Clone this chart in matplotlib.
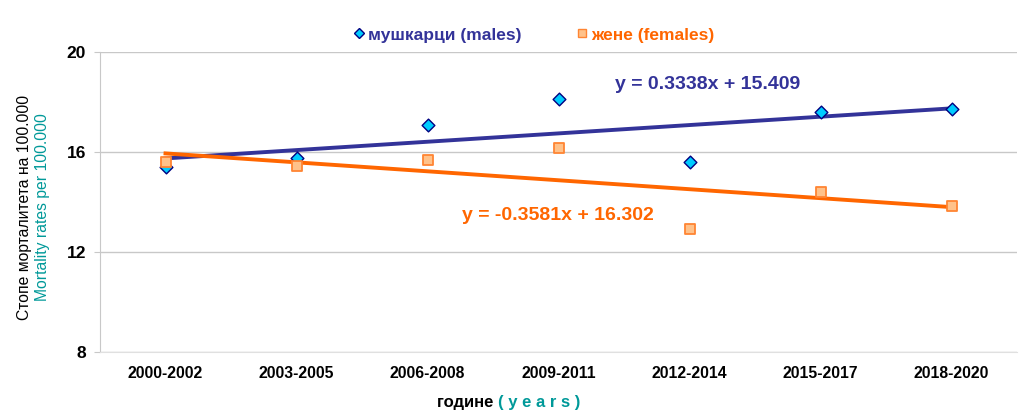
import numpy as np
import matplotlib.pyplot as plt
from matplotlib.lines import Line2D

# ------------------------------------------ DATA ------------------------------------------------#
periods = ['2000-2002', '2003-2005', '2006-2008', '2009-2011', '2012-2014', '2015-2017', '2018-2020']
males = [15.4, 15.76, 17.08, 18.12, 15.6, 17.6, 17.72]
females = [15.6, 15.44, 15.68, 16.16, 12.92, 14.4, 13.84]
males_fit = (0.3338, 15.409)
females_fit = (-0.3581, 16.302)

# ------------------------------------------ PLOT ------------------------------------------------#
plt.rcParams['font.family'] = ['Liberation Sans', 'DejaVu Sans']
blue = '#333399'
orange = '#FF6600'
teal = '#009999'

fig = plt.figure(figsize=(10.24, 4.18), dpi=100)
ax = fig.add_axes([100/1024, 1 - 352/418, 917/1024, 300/418])

x = np.arange(1, len(periods) + 1)
ax.plot(x, np.array(x) * males_fit[0] + males_fit[1], color=blue, lw=2.8, zorder=2)
ax.plot(x, np.array(x) * females_fit[0] + females_fit[1], color=orange, lw=2.8, zorder=2)
ax.scatter(x, males, marker='D', s=42, color='#00CCFF', edgecolors='#000080', linewidths=1.0, zorder=3)
ax.scatter(x, females, marker='s', s=52, color='#FFC28A', edgecolors='#FF8533', linewidths=1.3, zorder=3)

ax.set_xlim(0.5, len(periods) + 0.5)
ax.set_ylim(8, 20)
ax.set_yticks([8, 12, 16, 20])
ax.set_xticks(x)
ax.set_xticklabels(periods, fontsize=11.3, fontweight='bold')
ax.set_yticklabels(['8', '12', '16', '20'], fontsize=12.5, fontweight='bold')
ax.tick_params(axis='x', length=0, pad=10)
ax.tick_params(axis='y', length=4, color='#C8C8C8', pad=6)
ax.grid(axis='y', color='#C8C8C8', lw=1)
ax.set_axisbelow(True)
for s in ['top', 'right']:
    ax.spines[s].set_visible(False)
ax.spines['left'].set_color('#C8C8C8')
ax.spines['bottom'].set_color('#E0E0E0')

## trend equations
ax.text(4.43, 18.7, 'y = 0.3338x + 15.409', color=blue, fontsize=14, fontweight='bold', va='center')
ax.text(3.26, 13.44, 'y = -0.3581x + 16.302', color=orange, fontsize=14, fontweight='bold', va='center')

## legend on top
handles = [Line2D([], [], marker='D', ls='none', markersize=5, markerfacecolor='#00CCFF',
                  markeredgecolor='#000080', label='мушкарци (males)'),
           Line2D([], [], marker='s', ls='none', markersize=6, markerfacecolor='#FFC28A',
                  markeredgecolor='#FF8533', label='жене (females)')]
leg = fig.legend(handles=handles, loc='center', bbox_to_anchor=(532/1024, 1 - 35/418), ncol=2,
                 frameon=False, handletextpad=0.0, columnspacing=2.9, handlelength=1.1,
                 prop={'size': 12.5, 'weight': 'bold'})
for t, c in zip(leg.get_texts(), [blue, orange]):
    t.set_color(c)

## axis labels
fig.text(25/1024, 1 - 207/418, 'Стопе морталитета на 100.000', rotation=90, ha='center', va='center',
         fontsize=11.3, color='black')
fig.text(43/1024, 1 - 207/418, 'Mortality rates per 100.000', rotation=90, ha='center', va='center',
         fontsize=11.3, color=teal)
fig.text(498/1024, 1 - 403/418, 'године ', ha='right', va='center', fontsize=12,
         fontweight='bold', color='black')
fig.text(498/1024, 1 - 403/418, '( y e a r s )', ha='left', va='center', fontsize=12,
         fontweight='bold', color=teal)

plt.savefig('out.png', dpi=100)
